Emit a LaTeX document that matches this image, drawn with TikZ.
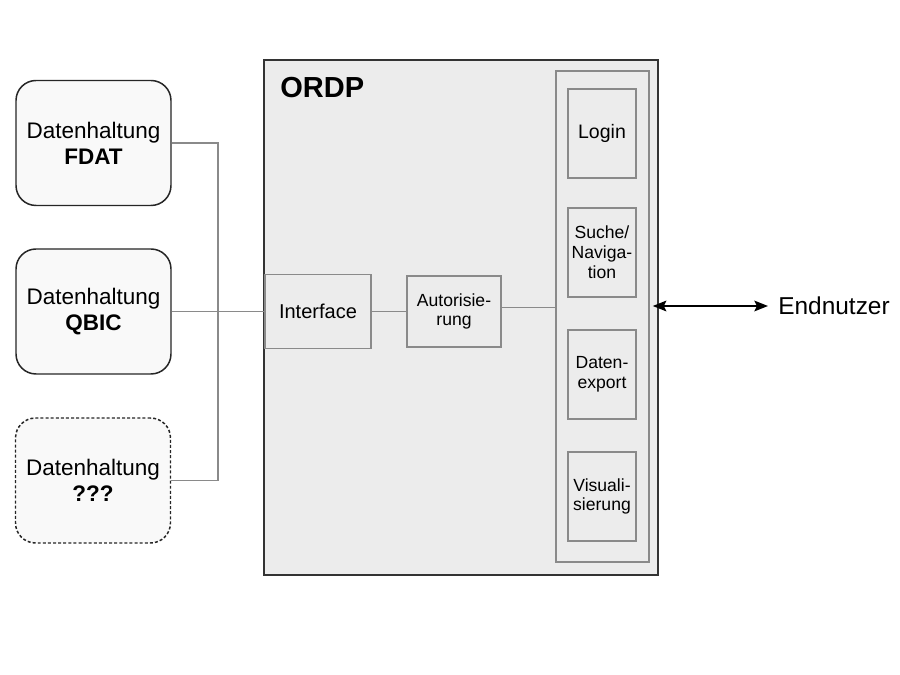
\documentclass[tikz,border=0pt]{standalone}
\usepackage{fontspec}
\setmainfont{Liberation Sans}
\usetikzlibrary{arrows.meta}
\definecolor{linegrey}{HTML}{8A8A8A}
\definecolor{ordpgrey}{HTML}{ECECEC}
\definecolor{storegrey}{HTML}{F9F9F9}
\begin{document}
\begin{tikzpicture}[x=1cm,y=1cm,
    store/.style={draw=black!85,line width=0.85pt,fill=storegrey,rounded corners=0.4cm,
      minimum width=3.1cm,minimum height=2.5cm,align=center,font=\fontsize{12.8}{14.7}\selectfont},
    module/.style={draw=linegrey,line width=0.75pt,fill=ordpgrey,align=center,inner sep=0pt},
    smalltext/.style={font=\fontsize{10}{11.3}\selectfont},
    bus/.style={draw=linegrey,line width=0.75pt},
    biarrow/.style={line width=1.4pt,{Stealth[length=0.27cm,width=0.21cm,inset=0.05cm]}-{Stealth[length=0.27cm,width=0.21cm,inset=0.05cm]}}]
  \useasboundingbox (0,0) rectangle (18,13.5);
  \node[store] (fdat) at (1.87,10.64) {Datenhaltung\\\textbf{FDAT}};
  \node[store] (qbic) at (1.87,7.27) {Datenhaltung\\\textbf{QBIC}};
  \node[store,dash pattern=on 1.7pt off 1.2pt] (unknown) at (1.86,3.89) {Datenhaltung\\\textbf{???}};
  \node[draw=black!80,line width=0.85pt,fill=ordpgrey,minimum width=7.88cm,minimum height=10.3cm] (ordp) at (9.22,7.15) {};
  \node[anchor=west,inner sep=0pt,font=\bfseries\fontsize{16.5}{20}\selectfont] (title) at (5.6,11.74) {ORDP};
  \node[module,minimum width=2.12cm,minimum height=1.48cm,font=\fontsize{11.4}{14}\selectfont] (iface) at (6.36,7.27) {Interface};
  \node[module,smalltext,minimum width=1.88cm,minimum height=1.42cm] (auth) at (9.08,7.27) {Autorisie-\\rung};
  \node[module,minimum width=1.86cm,minimum height=9.82cm] (col) at (12.05,7.17) {};
  \node[module,minimum width=1.36cm,minimum height=1.78cm,font=\fontsize{11.1}{14}\selectfont] (login) at (12.04,10.83) {Login};
  \node[module,smalltext,minimum width=1.36cm,minimum height=1.78cm] (search) at (12.04,8.45) {Suche/\\Naviga-\\tion};
  \node[module,smalltext,minimum width=1.36cm,minimum height=1.78cm] (export) at (12.04,6.01) {Daten-\\export};
  \node[module,smalltext,minimum width=1.36cm,minimum height=1.78cm] (vis) at (12.04,3.57) {Visuali-\\sierung};
  \node[anchor=west,inner sep=0.2cm,font=\fontsize{13.9}{16}\selectfont] (user) at (15.36,7.38) {Endnutzer};
  \coordinate (hub) at (4.36,7.27);
  \draw[bus] (fdat.east) -| (hub);
  \draw[bus] (unknown.east) -| (hub);
  \draw[bus] (qbic.east) -- (iface.west);
  \draw[bus] (iface.east) -- (auth.west);
  \draw[bus] ([yshift=0.08cm]auth.east) -- ([yshift=0.08cm]auth.east -| col.west);
  \draw[biarrow] ([xshift=-0.12cm]ordp.east |- user.west) -- (user.west);
\end{tikzpicture}
\end{document}
